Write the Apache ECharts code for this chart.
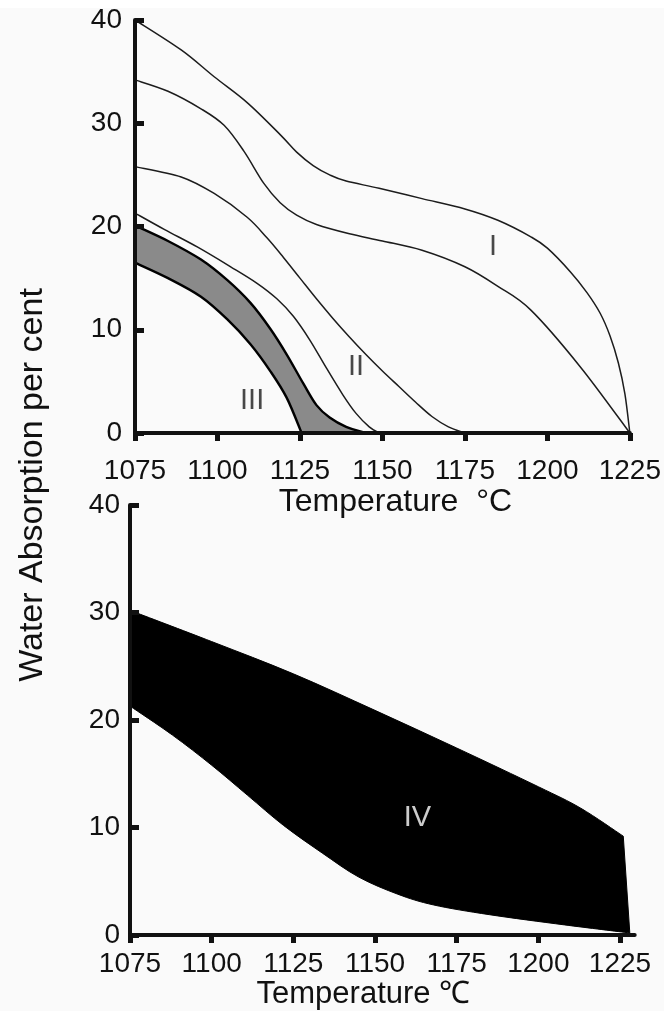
<!DOCTYPE html>
<html>
<head>
<meta charset="utf-8">
<script src="https://cdn.jsdelivr.net/npm/echarts@6/dist/echarts.min.js"></script>
<style>
  html, body { margin: 0; padding: 0; background: #fafafa; }
  #chart { width: 664px; height: 1011px; }
</style>
</head>
<body>
<div id="chart"></div>
<script>
// Axis ticks (temperature in °C, water absorption in %)
const temperatureTicks = [1075, 1100, 1125, 1150, 1175, 1200, 1225];
const absorptionTicks = [0, 10, 20, 30, 40];

// Upper panel: firing curves, each point is [temperature °C, water absorption %]
const curveIUpper = [[1075, 40], [1089, 37.1], [1099, 34.5], [1109, 32.0], [1119, 28.9], [1124, 27.2],
  [1129, 25.9], [1134, 25.0], [1139, 24.4], [1149, 23.7], [1162, 22.7], [1175, 21.7], [1185, 20.6],
  [1195, 19.0], [1200, 17.9], [1207, 15.6], [1212, 13.6], [1216, 11.6], [1219, 9.4], [1221.5, 6.8],
  [1223.5, 3.8], [1225, 0]];
const curveILower = [[1075, 34.2], [1085, 33.1], [1095, 31.4], [1102, 29.8], [1108, 27.3], [1114, 24.2],
  [1119, 22.3], [1124, 21.1], [1130, 20.2], [1140, 19.3], [1150, 18.6], [1162, 17.7], [1175, 16.1],
  [1185, 14.2], [1195, 11.9], [1210, 6.4], [1225, 0]];
const curveIIUpper = [[1075, 25.8], [1089, 24.8], [1099, 23.2], [1109, 20.9], [1115, 18.9], [1120, 17.0],
  [1125, 15.0], [1130, 13.0], [1135, 11.1], [1140, 9.3], [1145, 7.6], [1150, 6.0], [1155, 4.5],
  [1160, 3.0], [1165, 1.6], [1170, 0.6], [1175, 0]];
const curveIILower = [[1075, 21.3], [1084, 19.7], [1094, 18.0], [1104, 16.1], [1112, 14.5], [1118, 13.0],
  [1123, 11.3], [1128, 9.0], [1133, 6.3], [1138, 3.7], [1142, 1.9], [1146, 0.6], [1149, 0]];
const bandIIIUpper = [[1075, 20.1], [1085, 18.6], [1095, 16.8], [1103, 14.8], [1110, 12.6], [1116, 10.1],
  [1121, 7.6], [1126, 4.8], [1130, 2.7], [1134, 1.5], [1139, 0.6], [1145, 0]];
const bandIIILower = [[1075, 16.5], [1085, 15.0], [1095, 13.2], [1103, 11.0], [1110, 8.6], [1116, 6.0],
  [1121, 3.4], [1125.5, 0]];

// Lower panel: range IV
const bandIVUpper = [[1075, 30.2], [1100, 27.3], [1125, 24.3], [1150, 20.9], [1175, 17.4], [1200, 13.8],
  [1213, 11.8], [1226, 9.2]];
const bandIVLower = [[1075, 21.3], [1088, 18.6], [1100, 15.8], [1111, 13.0], [1122, 10.2], [1134, 7.6],
  [1145, 5.4], [1157, 3.8], [1168, 2.8], [1185, 1.9], [1208, 0.95], [1228, 0.2]];

// Region names with their anchor [name, temperature, absorption]
const upperRegionLabels = [['I', 1183.5, 18.0], ['II', 1142, 6.4], ['III', 1110.5, 3.1]];
const lowerRegionLabels = [['IV', 1163, 10.9]];

const FONT = '"Liberation Sans", Arial, Helvetica, sans-serif';
const INK = '#111';

// Cubic Catmull-Rom segments through already projected pixel points
function splineSegments(pts) {
  let d = '';
  for (let i = 0; i < pts.length - 1; i++) {
    const p0 = pts[Math.max(i - 1, 0)], p1 = pts[i], p2 = pts[i + 1];
    const p3 = pts[Math.min(i + 2, pts.length - 1)];
    const c1x = p1[0] + (p2[0] - p0[0]) / 6, c1y = p1[1] + (p2[1] - p0[1]) / 6;
    const c2x = p2[0] - (p3[0] - p1[0]) / 6, c2y = p2[1] - (p3[1] - p1[1]) / 6;
    d += ' C' + c1x + ' ' + c1y + ' ' + c2x + ' ' + c2y + ' ' + p2[0] + ' ' + p2[1];
  }
  return d;
}

// Closed outline of a band: along the upper edge, then back along the lower edge
function bandRenderer(upper, lower, style) {
  return function (params, api) {
    const up = upper.map(p => api.coord(p));
    const lo = lower.map(p => api.coord(p)).reverse();
    const d = 'M' + up[0][0] + ' ' + up[0][1] + splineSegments(up) +
      ' L' + lo[0][0] + ' ' + lo[0][1] + splineSegments(lo) + ' Z';
    return { type: 'path', shape: { pathData: d }, style: style };
  };
}

// Open smooth curve through the data points
function curveRenderer(data, style) {
  return function (params, api) {
    const pts = data.map(p => api.coord(p));
    const d = 'M' + pts[0][0] + ' ' + pts[0][1] + splineSegments(pts);
    return { type: 'path', shape: { pathData: d }, style: style };
  };
}

function xAxisFor(gridIndex, max, title, labelMargin, nameGap, namePadding, nameSize) {
  return {
    type: 'value', gridIndex: gridIndex, min: 1075, max: max, interval: 25, z: 5,
    axisLine: { show: true, onZero: false, lineStyle: { color: INK, width: 4 } },
    axisTick: { show: true, inside: false, length: 8, customValues: temperatureTicks,
      lineStyle: { color: INK, width: 5 } },
    axisLabel: { customValues: temperatureTicks, margin: labelMargin, fontSize: 28,
      color: INK, fontFamily: FONT, formatter: v => String(v) },
    splitLine: { show: false },
    name: title, nameLocation: 'middle', nameGap: nameGap,
    nameTextStyle: { fontSize: nameSize, color: INK, fontFamily: FONT, padding: namePadding }
  };
}

function yAxisFor(gridIndex, labelMargin) {
  return {
    type: 'value', gridIndex: gridIndex, min: 0, max: 40, interval: 10, z: 5,
    axisLine: { show: true, lineStyle: { color: INK, width: 4 } },
    axisTick: { show: true, inside: true, length: 9, customValues: absorptionTicks,
      lineStyle: { color: INK, width: 5 } },
    axisLabel: { customValues: absorptionTicks, margin: labelMargin, fontSize: 28,
      color: INK, fontFamily: FONT },
    splitLine: { show: false }
  };
}

function curve(data) {
  return {
    type: 'custom', coordinateSystem: 'cartesian2d', xAxisIndex: 0, yAxisIndex: 0, silent: true,
    data: [data[0]],
    renderItem: curveRenderer(data, { fill: 'none', stroke: '#1c1c1c', lineWidth: 1.5 })
  };
}

function regionLabels(list, axisIndex, color) {
  return {
    type: 'scatter', xAxisIndex: axisIndex, yAxisIndex: axisIndex, silent: true, z: 6,
    symbolSize: 1, itemStyle: { color: 'rgba(0,0,0,0)' },
    data: list.map(r => ({ name: r[0], value: [r[1], r[2]] })),
    label: { show: true, position: 'inside', formatter: p => p.name,
      fontSize: 29, color: color, fontFamily: FONT }
  };
}

const chart = echarts.init(document.getElementById('chart'), null, { renderer: 'canvas' });

chart.setOption({
  backgroundColor: '#fafafa',
  animation: false,
  grid: [
    { left: 135, top: 20, width: 495, height: 413 },
    { left: 130, top: 505, width: 504.7, height: 432 }
  ],
  xAxis: [
    xAxisFor(0, 1225, 'Temperature  °C', 24, 47, [0, 0, 0, 26], 32),
    xAxisFor(1, 1229.5, 'Temperature ℃', 15, 43, [0, 38, 0, 0], 31)
  ],
  yAxis: [yAxisFor(0, 13), yAxisFor(1, 10)],
  graphic: [
    { type: 'rect', left: 0, top: 0, shape: { width: 664, height: 8 }, style: { fill: '#ffffff' }, z: -1 },
    {
      type: 'text', x: 33, y: 485, rotation: Math.PI / 2,
      style: { text: 'Water Absorption per cent', fontSize: 34, fontFamily: FONT, fill: INK,
        align: 'center', verticalAlign: 'middle' }
    }
  ],
  series: [
    {
      type: 'custom', coordinateSystem: 'cartesian2d', xAxisIndex: 0, yAxisIndex: 0, silent: true,
      data: [bandIIIUpper[0]],
      renderItem: bandRenderer(bandIIIUpper, bandIIILower,
        { fill: '#8a8a8a', stroke: '#000', lineWidth: 2.4 })
    },
    curve(curveIUpper),
    curve(curveILower),
    curve(curveIIUpper),
    curve(curveIILower),
    {
      type: 'custom', coordinateSystem: 'cartesian2d', xAxisIndex: 1, yAxisIndex: 1, silent: true,
      data: [bandIVUpper[0]],
      renderItem: bandRenderer(bandIVUpper, bandIVLower, { fill: '#000', stroke: '#000', lineWidth: 1 })
    },
    regionLabels(upperRegionLabels, 0, '#1c1c1c'),
    regionLabels(lowerRegionLabels, 1, '#ffffff')
  ]
});
</script>
</body>
</html>
